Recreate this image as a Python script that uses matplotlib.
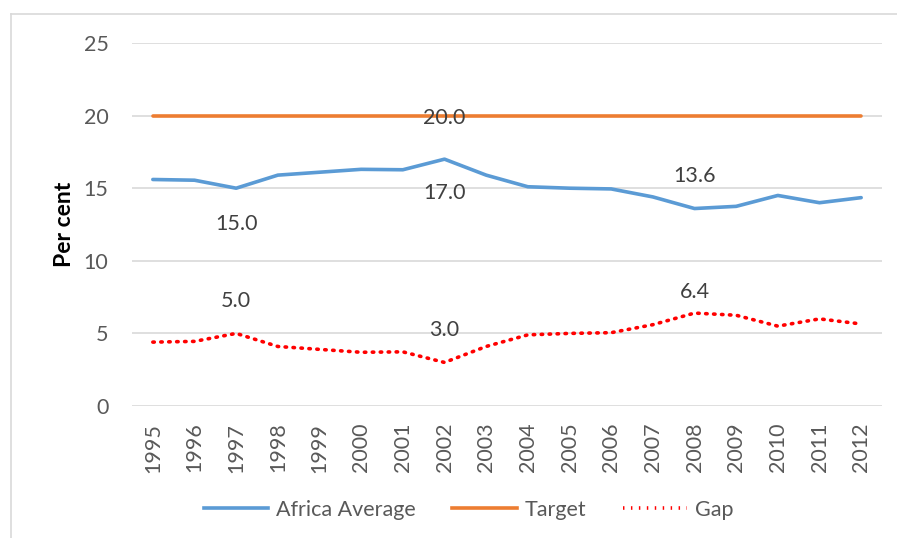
import matplotlib
matplotlib.use("Agg")
import matplotlib.pyplot as plt
from matplotlib.lines import Line2D

years = ["1995", "1996", "1997", "1998", "1999", "2000", "2001", "2002", "2003",
         "2004", "2005", "2006", "2007", "2008", "2009", "2010", "2011", "2012"]
africa_avg = [15.6, 15.55, 15.0, 15.9, 16.1, 16.3, 16.27, 17.0, 15.9,
              15.1, 15.0, 14.95, 14.4, 13.6, 13.75, 14.5, 14.0, 14.35]
target = [20.0] * len(years)
gap = [t - a for t, a in zip(target, africa_avg)]

plt.rcParams['font.family'] = ['Lato', 'DejaVu Sans']

W, H = 897, 538
FS = 15.5
fig = plt.figure(figsize=(W / 100, H / 100), dpi=100)
ax = fig.add_axes([132 / W, 1 - 406 / H, (882 - 132) / W, (406 - 43) / H])

x = list(range(len(years)))
dot = (0, (0.4, 1.8))
ax.plot(x, africa_avg, color='#5b9bd5', lw=2.6, solid_capstyle='round', label='Africa Average', zorder=3)
ax.plot(x, target, color='#ed7d31', lw=2.6, solid_capstyle='round', label='Target', zorder=3)
ax.plot(x, gap, color='#ff0000', lw=2.6, linestyle=dot, dash_capstyle='round', label='Gap', zorder=3)

ax.set_xlim(-0.5, len(years) - 0.5)
ax.set_ylim(0, 25)
ax.set_yticks([0, 5, 10, 15, 20, 25])
ax.set_xticks(x)
ax.set_xticklabels(years, rotation=90, fontsize=FS, color='#595959')
ax.tick_params(axis='y', labelsize=FS, labelcolor='#595959', length=0, pad=17)
ax.tick_params(axis='x', length=0, pad=12)
ax.grid(axis='y', color='#d9d9d9', lw=1.2)
ax.set_axisbelow(True)
for s in ax.spines.values():
    s.set_visible(False)
ax.set_ylabel('Per cent', fontsize=16.5, fontweight='bold', labelpad=6)

lab_kw = dict(ha='center', va='center', fontsize=FS, color='#404040', textcoords='offset points')
def ann(val, xi, yi, dy):
    ax.annotate(f"{val:.1f}", (xi, yi), xytext=(0, dy), **lab_kw)

ann(africa_avg[2], 2, africa_avg[2], -26)
ann(africa_avg[7], 7, africa_avg[7], -24.5)
ann(africa_avg[13], 13, africa_avg[13], 23.5)
ann(target[7], 7, target[7], -1.5)
ann(gap[2], 2, gap[2], 23)
ann(gap[7], 7, gap[7], 23)
ann(gap[13], 13, gap[13], 15.5)

handles = [Line2D([], [], color='#5b9bd5', lw=2.6),
           Line2D([], [], color='#ed7d31', lw=2.6),
           Line2D([], [], color='#ff0000', lw=2.6, linestyle=dot)]
leg = fig.legend(handles, ['Africa Average', 'Target', 'Gap'], loc='center',
                 bbox_to_anchor=(0.5 + 20 / W, 1 - 510 / H), ncol=3, frameon=False,
                 fontsize=FS, handlelength=3.0, columnspacing=1.7, handletextpad=0.35)
for t in leg.get_texts():
    t.set_color('#595959')

# chart border
fig.add_artist(Line2D([11 / W, 11 / W], [0, 1 - 14 / H], color='#d9d9d9', lw=1.2, transform=fig.transFigure))
fig.add_artist(Line2D([11 / W, 1], [1 - 14 / H, 1 - 14 / H], color='#d9d9d9', lw=1.2, transform=fig.transFigure))

fig.savefig('out.png', dpi=100)
